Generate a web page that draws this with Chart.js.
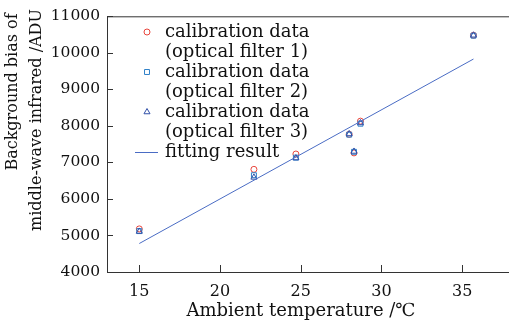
<!DOCTYPE html>
<html>
<head>
<meta charset="utf-8">
<script src="https://cdn.jsdelivr.net/npm/chart.js@4.4.0/dist/chart.umd.min.js"></script>
<style>
  html, body { margin: 0; padding: 0; background: #fff; }
  #wrap { width: 514px; height: 323px; }
</style>
</head>
<body>
<div id="wrap"><canvas id="chart"></canvas></div>
<script>
// data
const temps   = [15.0, 22.1, 24.7, 28.0, 28.3, 28.7, 35.7];
const filter1 = [5180, 6810, 7230, 7770, 7260, 8130, 10480];
const filter2 = [5120, 6650, 7130, 7760, 7290, 8060, 10470];
const filter3 = [5110, 6590, 7120, 7780, 7300, 8080, 10480];
const fitTemps = [15, 35.7];
const fitBias  = [4780, 9830];
const xTicks = [15, 20, 25, 30, 35];
const yTicks = [4000, 5000, 6000, 7000, 8000, 9000, 10000, 11000];

const legendLabels = [
    ['calibration data', '(optical filter 1)'],
    ['calibration data', '(optical filter 2)'],
    ['calibration data', '(optical filter 3)'],
    ['fitting result']
];
const xTitle = 'Ambient temperature /\u2103';
const yTitle = ['Background bias of', 'middle-wave infrared /ADU'];

const FONT = '"DejaVu Serif", "Liberation Serif", serif';
const TEXT = '#111';
const toPts = (xs, ys) => xs.map((x, i) => ({ x: x, y: ys[i] }));

// inward ticks, frame, legend and titles
const decor = {
    id: 'decor',
    afterDraw(chart) {
        const ctx = chart.ctx;
        const a = chart.chartArea;
        const xs = chart.scales.x, ys = chart.scales.y;
        ctx.save();
        ctx.strokeStyle = '#333';
        ctx.lineWidth = 1;
        ctx.beginPath();
        ctx.moveTo(a.left + 0.5, a.top + 0.5);
        ctx.lineTo(a.right, a.top + 0.5);
        ctx.moveTo(a.left + 0.5, a.top);
        ctx.lineTo(a.left + 0.5, a.bottom + 0.5);
        ctx.lineTo(a.right, a.bottom + 0.5);
        xTicks.forEach(v => {
            const px = Math.round(xs.getPixelForValue(v)) + 0.5;
            ctx.moveTo(px, a.bottom);
            ctx.lineTo(px, a.bottom - 7);
        });
        yTicks.forEach(v => {
            const py = Math.round(ys.getPixelForValue(v)) + 0.5;
            ctx.moveTo(a.left, py);
            ctx.lineTo(a.left + 6, py);
        });
        ctx.stroke();

        // legend
        ctx.font = '18px ' + FONT;
        ctx.textBaseline = 'middle';
        ctx.textAlign = 'left';
        let y = 32;
        chart.data.datasets.forEach((ds, i) => {
            ctx.strokeStyle = ds.borderColor;
            ctx.lineWidth = 1;
            if (ds.showLine) {
                ctx.beginPath();
                ctx.moveTo(135, y + 0.5);
                ctx.lineTo(158, y + 0.5);
                ctx.stroke();
            } else {
                ctx.fillStyle = 'rgba(255,255,255,0)';
                Chart.helpers.drawPoint(ctx, {
                    pointStyle: ds.pointStyle,
                    radius: ds.pointRadius,
                    borderWidth: 1
                }, 147, y);
            }
            ctx.fillStyle = TEXT;
            legendLabels[i].forEach(t => {
                ctx.fillText(t, 165, y);
                y += 20;
            });
        });

        // axis titles
        ctx.fillStyle = TEXT;
        ctx.textAlign = 'center';
        ctx.font = '18px ' + FONT;
        ctx.fillText(xTitle, 301, 311);
        ctx.font = '16px ' + FONT;
        [[13, 92], [37, 120]].forEach((p, i) => {
            ctx.save();
            ctx.translate(p[0], p[1]);
            ctx.rotate(-Math.PI / 2);
            ctx.fillText(yTitle[i], 0, 0);
            ctx.restore();
        });
        ctx.restore();
    }
};

new Chart(document.getElementById('chart'), {
    type: 'scatter',
    data: {
        datasets: [
            {
                label: 'filter 1',
                data: toPts(temps, filter1),
                pointStyle: 'circle',
                pointRadius: 3,
                borderColor: '#e8453c',
                backgroundColor: 'rgba(255,255,255,0)',
                borderWidth: 1,
                order: 3
            },
            {
                label: 'filter 2',
                data: toPts(temps, filter2),
                pointStyle: 'rect',
                pointRadius: 3.5,
                borderColor: '#2f80c8',
                backgroundColor: 'rgba(255,255,255,0)',
                borderWidth: 1,
                order: 2
            },
            {
                label: 'filter 3',
                data: toPts(temps, filter3),
                pointStyle: 'triangle',
                pointRadius: 3.5,
                borderColor: '#3150a8',
                backgroundColor: 'rgba(255,255,255,0)',
                borderWidth: 1,
                order: 1
            },
            {
                label: 'fitting result',
                data: toPts(fitTemps, fitBias),
                showLine: true,
                pointRadius: 0,
                borderColor: '#4a6cc4',
                borderWidth: 1,
                order: 0
            }
        ]
    },
    options: {
        responsive: true,
        maintainAspectRatio: false,
        animation: false,
        layout: { padding: { top: 12, right: 0, left: 0, bottom: 0 } },
        plugins: {
            legend: { display: false },
            tooltip: { enabled: false }
        },
        scales: {
            x: {
                type: 'linear',
                min: 13,
                max: 37.9,
                afterBuildTicks: s => { s.ticks = xTicks.map(v => ({ value: v })); },
                afterFit: s => { s.height = 51; },
                grid: { display: false, drawTicks: false },
                border: { display: false },
                ticks: {
                    color: TEXT,
                    padding: 10,
                    callback: v => String(v),
                    font: { family: FONT, size: 16 }
                }
            },
            y: {
                type: 'linear',
                min: 4000,
                max: 11000,
                afterBuildTicks: s => { s.ticks = yTicks.map(v => ({ value: v })); },
                afterFit: s => { s.width = 107; },
                grid: { display: false, drawTicks: false },
                border: { display: false },
                ticks: {
                    color: TEXT,
                    padding: 7,
                    callback: v => String(v),
                    font: { family: FONT, size: 15.5 }
                }
            }
        }
    },
    plugins: [decor]
});
</script>
</body>
</html>
